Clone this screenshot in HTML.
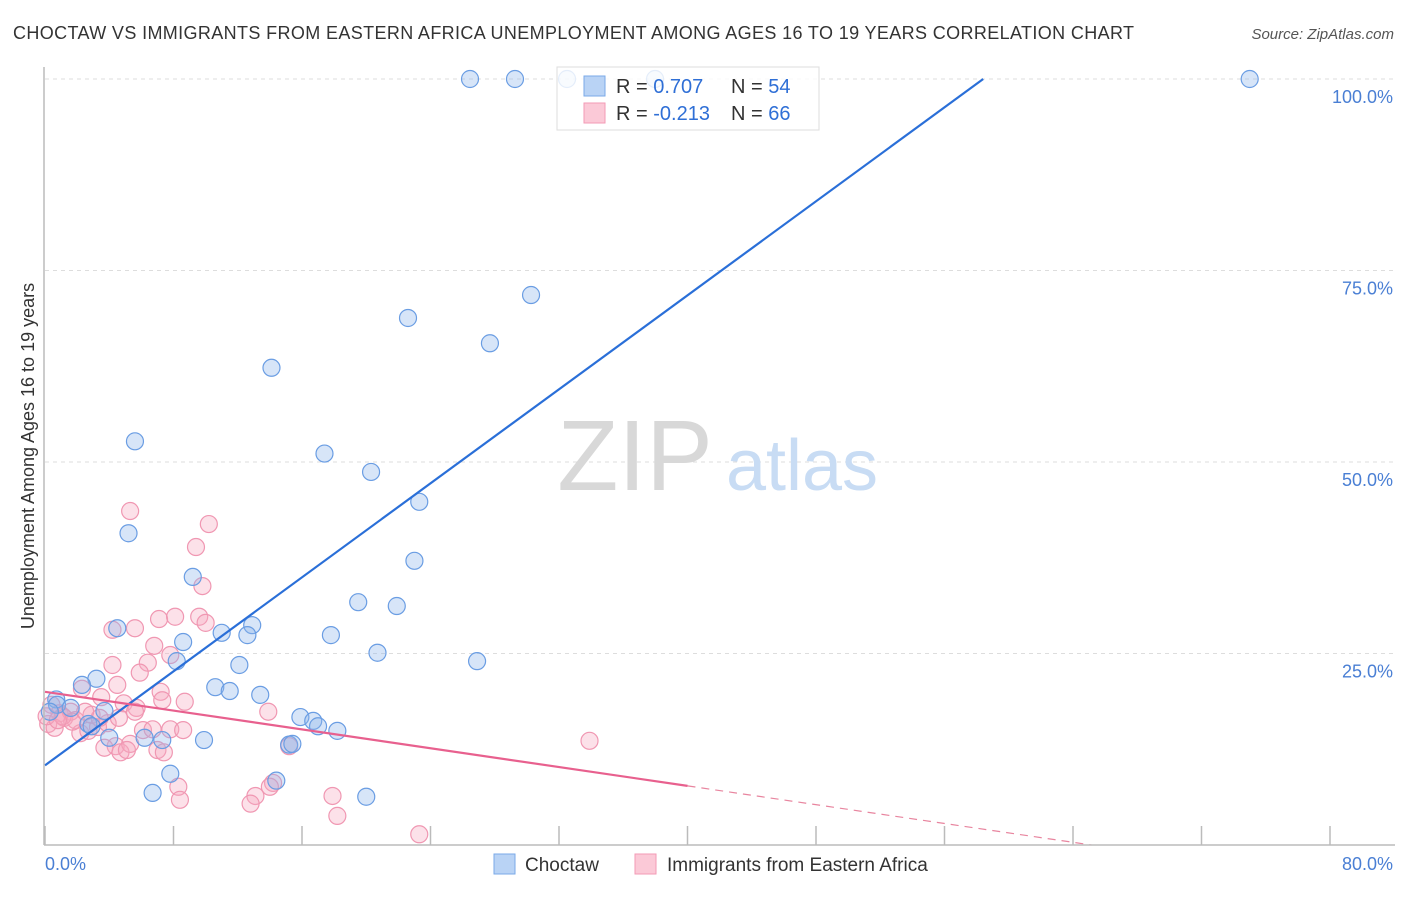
<!DOCTYPE html>
<html><head><meta charset="utf-8"><style>
body{margin:0;background:#fff;font-family:"Liberation Sans",sans-serif;}
svg text{font-family:"Liberation Sans",sans-serif;}
</style></head><body>
<svg id="chart" width="1406" height="892" viewBox="0 0 1406 892" xmlns="http://www.w3.org/2000/svg">
<text x="13" y="39" font-size="18" fill="#333" textLength="1121" lengthAdjust="spacing">CHOCTAW VS IMMIGRANTS FROM EASTERN AFRICA UNEMPLOYMENT AMONG AGES 16 TO 19 YEARS CORRELATION CHART</text>
<text x="1394" y="39" font-size="15" fill="#555" text-anchor="end" font-style="italic">Source: ZipAtlas.com</text>
<g id="grid"></g>
<g>
<text x="635" y="490" font-size="100" fill="#d8d8d8" text-anchor="middle" font-family="Liberation Serif,serif">ZIP</text>
<text x="802" y="490" font-size="72" fill="#c8dcf4" text-anchor="middle">atlas</text>
</g>
<g id="marks"></g>
<g id="axes"></g>
<text transform="translate(34,456) rotate(-90)" font-size="18" fill="#333" text-anchor="middle">Unemployment Among Ages 16 to 19 years</text>
<g>
<rect x="557" y="67" width="262" height="63" fill="rgba(255,255,255,0.82)" stroke="#ddd"/>
<rect x="584" y="76" width="21" height="20" fill="#b9d3f5" stroke="#7aa9e8"/>
<rect x="584" y="103" width="21" height="20" fill="#fbc9d7" stroke="#f39ab5"/>
<text x="616" y="93" font-size="20" fill="#333">R = <tspan fill="#2f6fd6">0.707</tspan><tspan x="731">N = </tspan><tspan fill="#2f6fd6">54</tspan></text>
<text x="616" y="120" font-size="20" fill="#333">R = <tspan fill="#2f6fd6">-0.213</tspan><tspan x="731">N = </tspan><tspan fill="#2f6fd6">66</tspan></text>
</g>
<g>
<rect x="494" y="854" width="21" height="20" fill="#b9d3f5" stroke="#7aa9e8"/>
<text x="525" y="871" font-size="19" fill="#333">Choctaw</text>
<rect x="635" y="854" width="21" height="20" fill="#fbc9d7" stroke="#f39ab5"/>
<text x="667" y="871" font-size="19" fill="#333">Immigrants from Eastern Africa</text>
</g>
</svg>
<script>
const blueX=[26.46,29.26,32.5,37.98,75.0,30.26,22.6,27.7,14.1,5.6,17.4,20.3,23.3,5.2,23.0,9.2,19.5,21.9,4.5,12.9,17.8,11.0,12.6,8.6,26.9,20.7,12.1,8.2,3.2,2.3,10.6,11.5,13.4,0.7,3.7,15.9,16.7,17.0,18.2,0.75,1.6,2.7,2.9,4.0,6.2,7.3,9.9,15.2,15.4,14.4,7.8,6.7,20.0,0.3];
const blueY=[100,100,100,100,100,71.8,68.8,65.5,62.3,52.7,51.1,48.7,44.8,40.7,37.1,35.0,31.7,31.2,28.3,28.7,27.4,27.7,27.4,26.5,24.0,25.1,23.5,24.0,21.7,20.9,20.6,20.1,19.6,19.0,17.5,16.7,16.2,15.5,14.9,18.3,17.9,15.8,15.5,14.0,14.0,13.7,13.7,13.1,13.2,8.4,9.3,6.8,6.3,17.4];
const pinkX=[5.3,10.2,9.4,9.8,4.2,5.6,7.1,8.1,9.6,10.0,6.8,7.8,6.4,5.9,4.2,4.5,3.5,4.9,5.7,7.2,7.3,8.7,2.3,0.4,0.9,1.2,1.6,1.9,0.2,0.6,2.2,2.7,3.3,3.9,4.6,13.9,6.1,6.7,7.8,8.6,4.4,3.7,4.7,5.3,7.0,7.4,5.1,15.2,33.9,14.2,14.0,13.1,12.8,8.3,8.4,17.9,18.2,23.3,1.1,1.7,0.1,2.9,3.4,2.5,5.6,0.8];
const pinkY=[43.6,41.9,38.9,33.8,28.1,28.3,29.5,29.8,29.8,29.0,26.0,24.8,23.8,22.5,23.5,20.9,19.3,18.5,17.9,20.0,18.9,18.7,20.4,18.3,17.2,16.6,17.4,16.3,15.8,15.3,14.6,14.9,15.4,15.9,16.6,17.4,15.0,15.1,15.1,15.0,12.9,12.7,12.1,13.2,12.4,12.1,12.4,12.9,13.6,8.1,7.6,6.4,5.4,7.6,5.9,6.4,3.8,1.4,16.8,16.1,16.8,17.0,16.6,17.4,17.4,16.3];
const yTicks=[25,50,75,100];
const yTickLabels=["25.0%","50.0%","75.0%","100.0%"];
const xTicks=[0,8,16,24,32,40,48,56,64,72,80];
const blueTrend=[10.4,1.534]; // intercept, slope
const pinkTrend=[20.0,-0.307];
const pinkSolidEnd=40;

const X0=45,X1=1330,Y0=845,Y1=79;
const sx=v=>X0+(v/80)*(X1-X0);
const sy=v=>Y0-(v/100)*(Y0-Y1);
const NS="http://www.w3.org/2000/svg";
function mk(tag,attrs,parent){const e=document.createElementNS(NS,tag);for(const k in attrs)e.setAttribute(k,attrs[k]);parent.appendChild(e);return e;}
const grid=document.getElementById('grid'),marks=document.getElementById('marks'),axes=document.getElementById('axes');
yTicks.forEach((t,i)=>{
  const l=mk('line',{x1:45,x2:1395,y1:sy(t),y2:sy(t),stroke:'#ddd','stroke-dasharray':'4,4'},grid);
  
  
  const tx=mk('text',{x:1393,y:sy(t)+24,'font-size':18,fill:'#4a7fd4','text-anchor':'end'},axes);
  tx.textContent=yTickLabels[i];
  
  
});
const la=mk('line',{x1:44,x2:44,y1:67,y2:Y0,stroke:'#bbb','stroke-width':1.5},axes);


const ba=mk('line',{x1:44,x2:1395,y1:Y0,y2:Y0,stroke:'#bbb','stroke-width':1.5},axes);


xTicks.forEach(t=>{
  const l=mk('line',{x1:sx(t),x2:sx(t),y1:826,y2:Y0,stroke:'#bbb','stroke-width':1.5},axes);
  
  
});
const xl0=mk('text',{x:45,y:870,'font-size':18,fill:'#4a7fd4'},axes);xl0.textContent='0.0%';


const xl1=mk('text',{x:1393,y:870,'font-size':18,fill:'#4a7fd4','text-anchor':'end'},axes);xl1.textContent='80.0%';



pinkX.forEach((x,i)=>{
  const c=mk('circle',{cx:sx(x),cy:sy(pinkY[i]),r:8.5,fill:'rgba(246,168,192,0.35)',stroke:'#f097b2','stroke-width':1.2},marks);
  
  
});
blueX.forEach((x,i)=>{
  const c=mk('circle',{cx:sx(x),cy:sy(blueY[i]),r:8.5,fill:'rgba(140,180,236,0.35)',stroke:'#6a9de3','stroke-width':1.2},marks);
  
  
});
const bxEnd=(100-blueTrend[0])/blueTrend[1];
const bt=mk('line',{x1:sx(0),y1:sy(blueTrend[0]),x2:sx(bxEnd),y2:sy(100),stroke:'#2a6fd8','stroke-width':2.2},marks);


const pt=mk('line',{x1:sx(0),y1:sy(pinkTrend[0]),x2:sx(pinkSolidEnd),y2:sy(pinkTrend[0]+pinkTrend[1]*pinkSolidEnd),stroke:'#e8608e','stroke-width':2.2},marks);


const pxEnd=-pinkTrend[0]/pinkTrend[1];
const pd=mk('line',{x1:sx(pinkSolidEnd),y1:sy(pinkTrend[0]+pinkTrend[1]*pinkSolidEnd),x2:sx(pxEnd),y2:sy(0),stroke:'#e8859f','stroke-width':1.2,'stroke-dasharray':'8,6'},marks);


</script>
</body></html>
